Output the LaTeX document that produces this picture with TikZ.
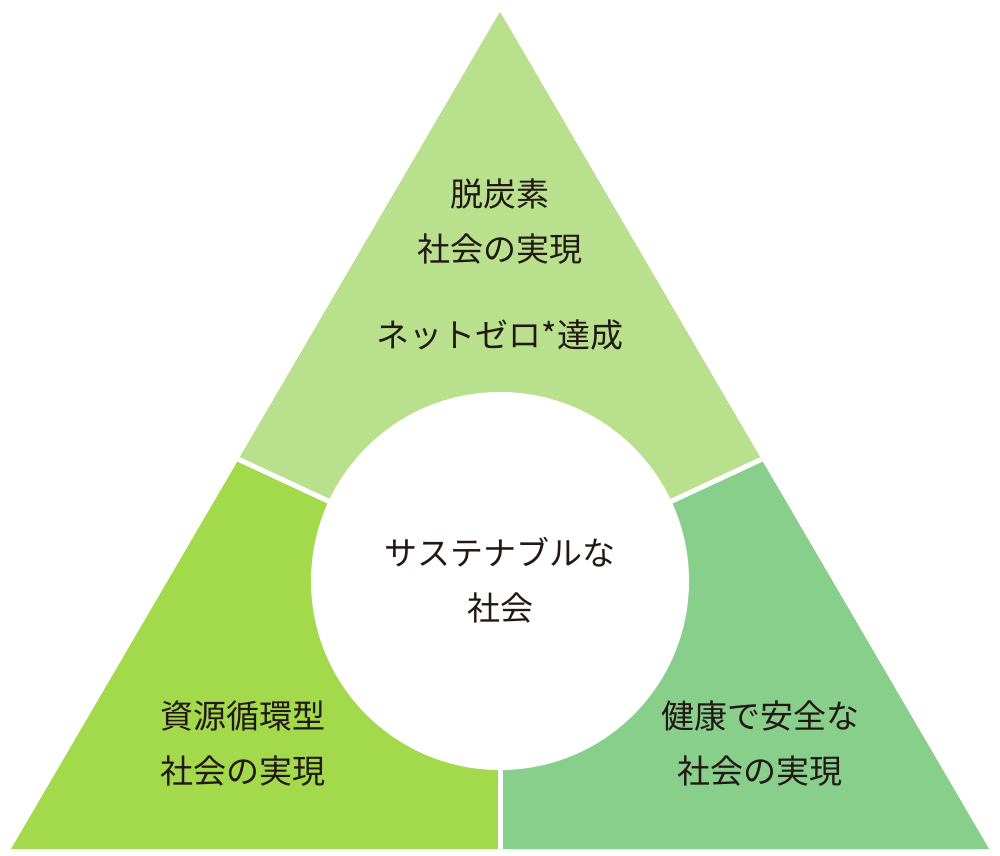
\documentclass[tikz,border=0pt]{standalone}
\usetikzlibrary{calc}
\usepackage{fontspec}
\setmainfont{Noto Sans CJK JP}
\definecolor{ctop}{HTML}{B9E08D}
\definecolor{cleft}{HTML}{A3DA4B}
\definecolor{cright}{HTML}{88CF8B}
\definecolor{ctext}{HTML}{231815}
\begin{document}
\begin{tikzpicture}[x=1pt,y=-1pt,
  lbl/.style={font=\fontsize{33}{55}\selectfont,text=ctext,align=center,inner sep=0pt},
  sep/.style={draw=white,line width=5pt}]
\useasboundingbox (0,0) rectangle (1000,855);
\coordinate (A) at (500,12);
\coordinate (L) at (11,849);
\coordinate (R) at (989,849);
\coordinate (C) at (500,581);
\coordinate (EL) at (240,460);
\coordinate (ER) at (760,460);
\begin{scope}
\clip (A) -- (L) -- (R) -- cycle;
\fill[cleft] (A) -- (L) -- (R) -- cycle;
\fill[ctop] (A) -- ($(C)!1.3!(ER)$) -- (C) -- ($(C)!1.3!(EL)$) -- cycle;
\fill[cright] (C) -- ($(C)!1.3!(ER)$) -- (1100,900) -- (500,900) -- cycle;
\draw[sep] (C) -- ($(C)!1.1!(EL)$);
\draw[sep] (C) -- ($(C)!1.1!(ER)$);
\draw[sep] (C) -- (500,900);
\end{scope}
\node[circle,fill=white,minimum size=378pt,inner sep=0pt] (circ) at (C) {};
\node[lbl] (top) at (500,222) {脱炭素\\社会の実現};
\node[lbl] (net) at (500,335) {ネットゼロ*達成};
\node[lbl] (mid) at (500,580) {サステナブルな\\社会};
\node[lbl] (lt) at (243,744) {資源循環型\\社会の実現};
\node[lbl] (rt) at (760,744) {健康で安全な\\社会の実現};
\end{tikzpicture}
\end{document}
